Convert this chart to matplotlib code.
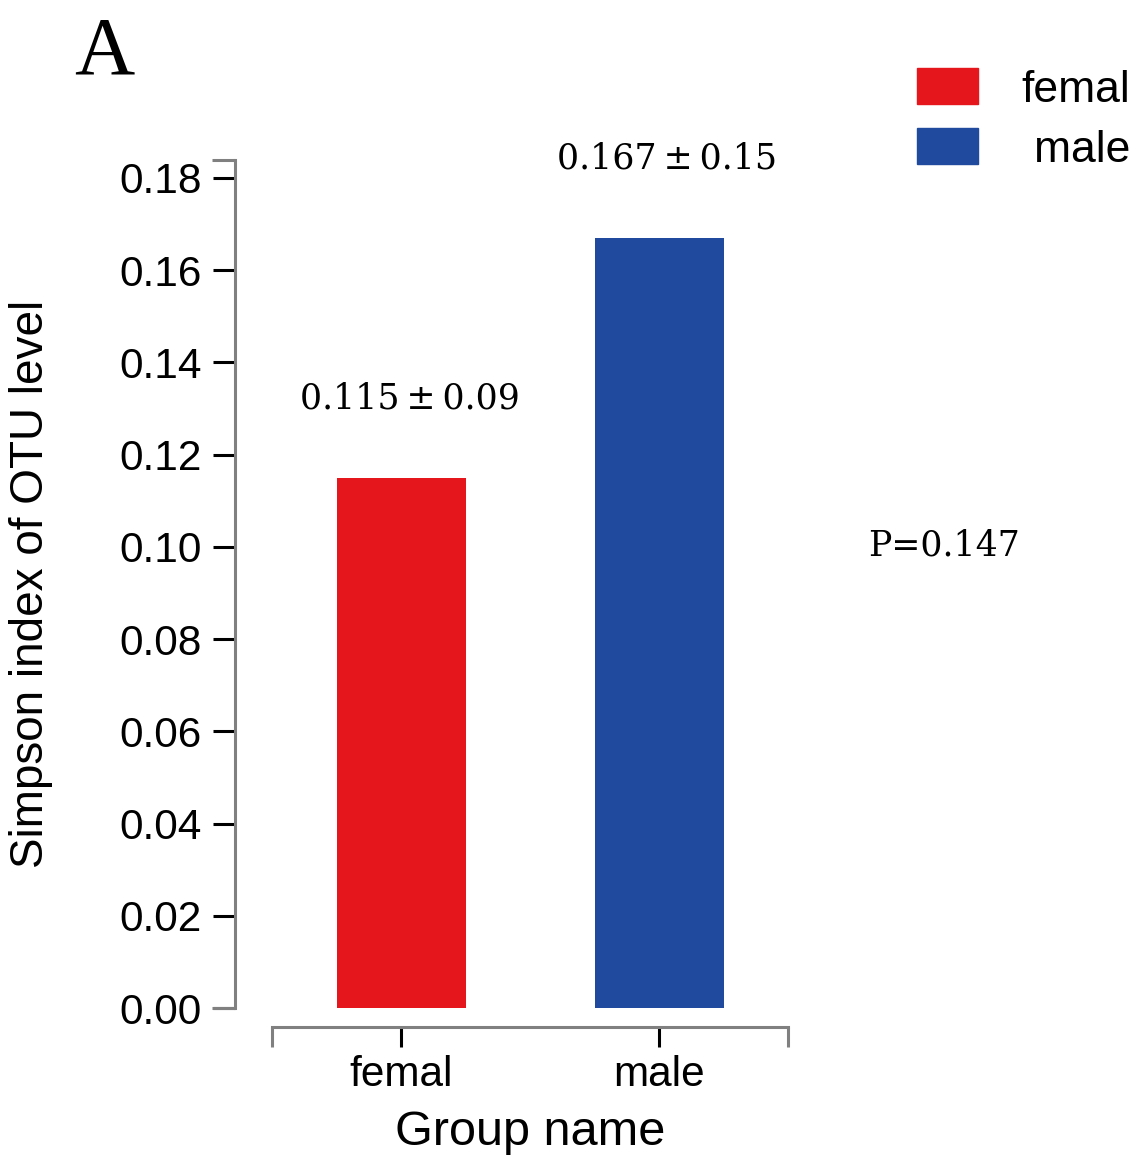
#!/usr/bin/env python3
"""Simpson index (OTU level) by sex: bar chart with mean ± SD labels."""

import matplotlib

matplotlib.use("Agg")

import matplotlib.pyplot as plt
import numpy as np
from matplotlib.patches import Rectangle
from matplotlib.ticker import FormatStrFormatter

groups = ["femal", "male"]
means = [0.115, 0.167]
sds = [0.09, 0.15]
bar_colors = ["#E5161C", "#1F4A9D"]
p_value = 0.147
yticks = [0.00, 0.02, 0.04, 0.06, 0.08, 0.10, 0.12, 0.14, 0.16, 0.18]

SANS = "Liberation Sans"
SERIF = "DejaVu Serif"
GRAY = "#808080"
W, H = 1130, 1168


def main() -> None:
    plt.rcParams["font.family"] = SANS
    fig = plt.figure(figsize=(W / 100, H / 100), dpi=100)
    ax = fig.add_axes([235 / W, 1 - 1008 / H, 553 / W, 848 / H])

    x = np.arange(len(groups))
    ax.bar(x, means, width=0.5, color=bar_colors)

    ax.set_xlim(-0.645, 1.5)
    ax.set_ylim(0, 0.1839)

    # y axis: gray spine with bracket caps at both ends
    ax.set_yticks(yticks)
    ax.yaxis.set_major_formatter(FormatStrFormatter("%.2f"))
    ax.set_yticks([0, 0.1839], minor=True)
    ax.yaxis.remove_overlapping_locs = False

    # x axis: detached gray spine, caps pointing down
    ax.set_xticks(x, groups)
    ax.set_xticks([-0.5, 1.5], minor=True)

    for side in ("top", "right"):
        ax.spines[side].set_visible(False)
    for side in ("left", "bottom"):
        ax.spines[side].set_color(GRAY)
        ax.spines[side].set_linewidth(2.2)
    ax.spines["bottom"].set_position(("outward", 13.7))
    ax.spines["bottom"].set_bounds(-0.5, 1.5)

    ax.tick_params(axis="y", which="major", length=16, width=2.2, color="black",
                   labelsize=30.5, pad=8)
    ax.tick_params(axis="y", which="minor", length=16.5, width=2.2, color=GRAY)
    ax.tick_params(axis="x", which="major", length=14.5, width=2.2, color="black",
                   labelsize=30.5, pad=6)
    ax.tick_params(axis="x", which="minor", length=14.5, width=2.2, color=GRAY)

    ax.set_ylabel("Simpson index of OTU level", fontsize=33)
    ax.yaxis.set_label_coords(-0.33, 0.5)
    ax.set_xlabel("Group name", fontsize=35)
    ax.xaxis.set_label_coords(0.5335, -0.12)

    # mean ± sd above each bar
    for xi, m, s in zip(x, means, sds):
        ax.annotate(f"{m:.3f}\u2009±\u2009{s:.2f}", xy=(xi, m), xytext=(6, 50),
                    textcoords="offset points", ha="center", va="baseline",
                    fontsize=25, family=SERIF)

    ax.text(1.145, (1008 - 546) / 848, f"P={p_value}", transform=ax.transAxes,
            ha="left", va="center", fontsize=25, family=SERIF)

    fig.text(0.066, 1 - 73 / H, "A", ha="left", va="baseline", fontsize=60,
             family="Liberation Serif")

    # legend boxes in the top right corner
    for i, (name, color) in enumerate(zip(groups, bar_colors)):
        top = 68 + i * 60
        fig.patches.append(Rectangle((917 / W, 1 - (top + 36) / H), 61 / W, 36 / H,
                                     transform=fig.transFigure, color=color))
        fig.text(1.0, 1 - (top + 18) / H, name, ha="right", va="center_baseline",
                 fontsize=32)

    fig.savefig("out.png", dpi=100)
    plt.close(fig)


if __name__ == "__main__":
    main()
